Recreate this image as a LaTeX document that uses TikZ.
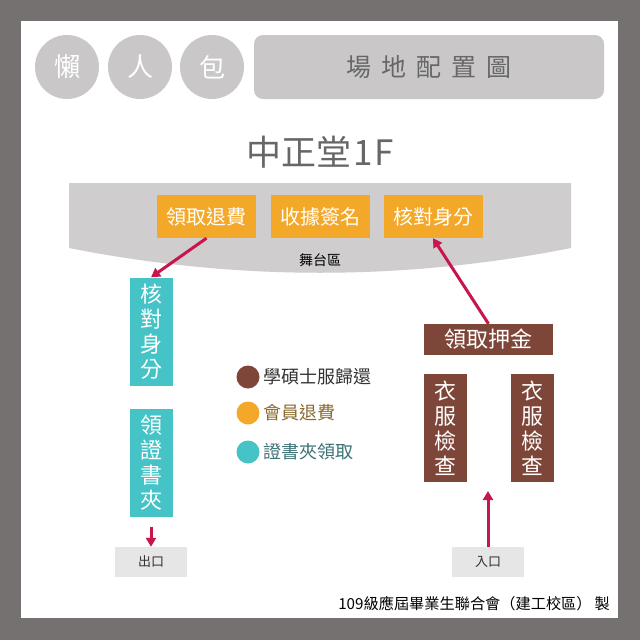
\documentclass[tikz,border=0pt]{standalone}
\usepackage{fontspec}
\setmainfont{Noto Sans CJK TC}
\usepackage{xcolor}
\usetikzlibrary{arrows.meta}

\definecolor{framegray}{HTML}{757170}
\definecolor{badgegray}{HTML}{C9C7C7}
\definecolor{stagegray}{HTML}{CFCDCD}
\definecolor{titletext}{HTML}{676767}
\definecolor{orangeC}{HTML}{F4A82A}
\definecolor{tealC}{HTML}{45C3C6}
\definecolor{brownC}{HTML}{7E4638}
\definecolor{arrowC}{HTML}{C8154B}
\definecolor{gateC}{HTML}{E6E6E6}
\definecolor{goldtext}{HTML}{8B6A2E}
\definecolor{tealtext}{HTML}{3F7377}

\tikzset{
  >={Triangle[length=9pt,width=10pt]},
  badge/.style={circle, fill=badgegray, text=white, minimum size=64pt, inner sep=0pt,
    font=\fontsize{26}{30}\selectfont},
  titlebox/.style={fill=badgegray, rounded corners=9pt, minimum width=350pt,
    minimum height=64pt, text=titletext, font=\fontsize{25}{30}\selectfont},
  orangebox/.style={fill=orangeC, text=white, minimum width=99pt, minimum height=43pt,
    inner sep=0pt, font=\fontsize{20}{24}\selectfont},
  tealbox/.style={fill=tealC, text=white, minimum width=43pt, minimum height=108pt,
    inner sep=0pt, align=center, font=\fontsize{22}{25}\selectfont},
  brownbox/.style={fill=brownC, text=white, minimum width=43pt, minimum height=108pt,
    inner sep=0pt, align=center, font=\fontsize{22}{25}\selectfont},
  gatebox/.style={fill=gateC, minimum width=72pt, minimum height=30pt, inner sep=0pt,
    text=black!80, font=\fontsize{13}{15}\selectfont},
  flow/.style={->, draw=arrowC, line width=3pt},
  legenddot/.style={circle, minimum size=23pt, inner sep=0pt},
  legendtext/.style={anchor=west, inner sep=0pt, font=\fontsize{18}{22}\selectfont}
}

\begin{document}
\begin{tikzpicture}[x=1pt,y=-1pt]
    \useasboundingbox (0,0) rectangle (640,640);
    \fill[framegray] (0,0) rectangle (640,640);
    \fill[white] (21,21) rectangle (618,618);

    % header
    \node[badge] (lan) at (67,67) {懶};
    \node[badge] (ren) at (140,67) {人};
    \node[badge] (bao) at (212,67) {包};
    \node[titlebox] (title) at (429,67) {場\hspace{10pt}地\hspace{10pt}配\hspace{10pt}置\hspace{10pt}圖};

    \node[text=titletext, font=\fontsize{35}{40}\selectfont] (hall) at (320,152) {中正堂\hspace{2pt}1\hspace{2pt}F};

    % stage
    \fill[stagegray] (69,183) -- (571,183) -- (571,248)
        .. controls (404,281) and (236,281) .. (69,248) -- cycle;
    \node[font=\fontsize{14}{16}\selectfont] (stage) at (320,260) {舞台區};
    \node[orangebox] (refund) at (206.5,216.5) {領取退費};
    \node[orangebox] (receipt) at (320,216.5) {收據簽名};
    \node[orangebox] (verify) at (433,216.5) {核對身分};

    % exit side
    \node[tealbox] (idcheck) at (151,331.5) {核\\對\\身\\分};
    \node[tealbox] (folder) at (151,462.5) {領\\證\\書\\夾};
    \node[gatebox] (exit) at (151,562) {出口};

    % entrance side
    \node[brownbox, minimum width=129pt, minimum height=31pt] (deposit) at (488.5,339.5) {領取押金};
    \node[brownbox] (clothesA) at (445.5,428) {衣\\服\\檢\\查};
    \node[brownbox] (clothesB) at (532,428) {衣\\服\\檢\\查};
    \node[gatebox] (entrance) at (488,562) {入口};
    \coordinate (gate) at (488,491);

    \draw[flow] (refund.south) -- (idcheck.north);
    \draw[flow] (deposit.north) -- (verify.south);
    \draw[flow, shorten <=10pt] (folder.south) -- (exit.north);
    \draw[flow] (entrance.north) -- (gate);

    % legend
    \node[legenddot, fill=brownC] (dotgown) at (248,377) {};
    \node[legenddot, fill=orangeC] (dotfee) at (248,413) {};
    \node[legenddot, fill=tealC] (dotfolder) at (248,452) {};
    \node[legendtext, text=black!80] (lgown) at (263,377) {學碩士服歸還};
    \node[legendtext, text=goldtext] (lfee) at (263,413) {會員退費};
    \node[legendtext, text=tealtext] (lfolder) at (263,452) {證書夾領取};

    \node[anchor=east, inner sep=0pt, font=\fontsize{15.2}{17}\selectfont] (credit) at (610,604)
        {109級應屆畢業生聯合會（建工校區）\hspace{3pt}製};
\end{tikzpicture}
\end{document}
